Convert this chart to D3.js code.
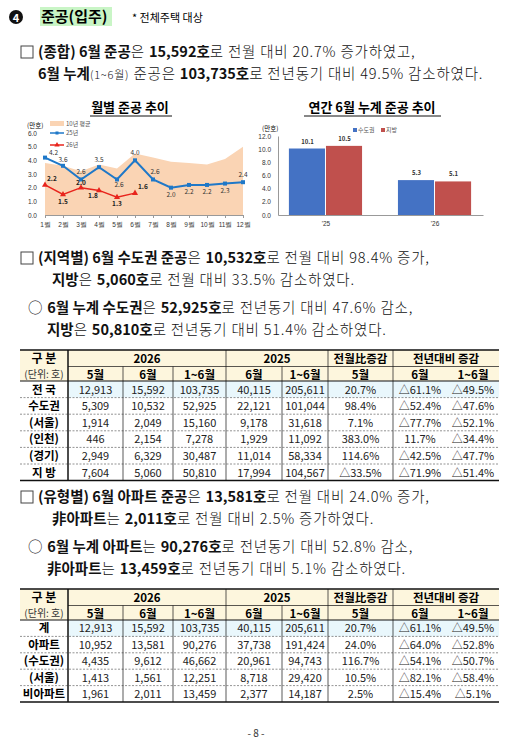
<!DOCTYPE html>
<html><head><meta charset="utf-8">
<script src="https://cdn.jsdelivr.net/npm/d3@7"></script>
<style>body{margin:0;background:#fff}svg{display:block;font-family:"Noto Sans CJK KR","Noto Sans",sans-serif}</style>
</head><body><svg id="s" width="512" height="743"></svg>
<script>
const months=["1월","2월","3월","4월","5월","6월","7월","8월","9월","10월","11월","12월"];
const avg10=[3.8,3.6,3.2,3.7,3.4,4.5,4.2,3.9,3.8,3.7,4.1,5.0];
const y25=[4.2,3.6,2.6,3.5,2.6,4.0,2.6,2.0,2.2,2.2,2.3,2.4];
const y26=[2.2,1.5,2.0,1.8,1.3,1.6];
const barYears=["'25","'26"];
const capital=[10.1,5.3];
const region=[10.5,5.1];
const head1=["5월","6월","1~6월","6월","1~6월","5월","6월","1~6월"];
const t1Labels=["전 국","수도권","(서울)","(인천)","(경기)","지 방"];
const t1=[["12,913","15,592","103,735","40,115","205,611","20.7%","△61.1%","△49.5%"],
["5,309","10,532","52,925","22,121","101,044","98.4%","△52.4%","△47.6%"],
["1,914","2,049","15,160","9,178","31,618","7.1%","△77.7%","△52.1%"],
["446","2,154","7,278","1,929","11,092","383.0%","11.7%","△34.4%"],
["2,949","6,329","30,487","11,014","58,334","114.6%","△42.5%","△47.7%"],
["7,604","5,060","50,810","17,994","104,567","△33.5%","△71.9%","△51.4%"]];
const t2Labels=["계","아파트","(수도권)","(서울)","비아파트"];
const t2=[["12,913","15,592","103,735","40,115","205,611","20.7%","△61.1%","△49.5%"],
["10,952","13,581","90,276","37,738","191,424","24.0%","△64.0%","△52.8%"],
["4,435","9,612","46,662","20,961","94,743","116.7%","△54.1%","△50.7%"],
["1,413","1,561","12,251","8,718","29,420","10.5%","△82.1%","△58.4%"],
["1,961","2,011","13,459","2,377","14,187","2.5%","△15.4%","△5.1%"]];

const svg=d3.select("#s");
function para(x,y,parts,size=14.5){
  const t=svg.append("text").attr("x",x).attr("y",y).attr("font-size",size).attr("fill","#111");
  parts.forEach(p=>{t.append("tspan").text(p[0]).attr("font-weight",p[1]?"bold":"300").attr("letter-spacing",p[1]?0:0.8).attr("font-size",p[2]||size);});
}
svg.append("circle").attr("cx",16).attr("cy",17).attr("r",7).attr("fill","#111");
svg.append("text").attr("x",16).attr("y",21.5).attr("text-anchor","middle").attr("font-size",11).attr("font-weight","bold").attr("fill","#fff").text("4");
svg.append("rect").attr("x",40).attr("y",7).attr("width",72).attr("height",19).attr("fill","#c9f5c6");
svg.append("text").attr("x",41).attr("y",22).attr("font-size",15).attr("font-weight","bold").text("준공(입주)");
svg.append("text").attr("x",132).attr("y",22).attr("font-size",11).text("* 전체주택 대상");

function box(x,y){svg.append("rect").attr("x",x).attr("y",y-11).attr("width",12).attr("height",12).attr("fill","none").attr("stroke","#444");}
box(21,57);
para(38,57,[["(종합) 6월 준공",1],["은 ",0],["15,592호",1],["로 전월 대비 20.7% 증가하였고,",0]]);
para(38,79,[["6월 누계",1],["(1~6월)",0,11],[" 준공은 ",0],["103,735호",1],["로 전년동기 대비 49.5% 감소하였다.",0]]);

svg.append("text").attr("x",130).attr("y",112).attr("text-anchor","middle").attr("font-size",13).attr("font-weight","bold").text("월별 준공 추이");
svg.append("line").attr("x1",90).attr("x2",172).attr("y1",116).attr("y2",116).attr("stroke","#111");
const x=d3.scalePoint().domain(months).range([45,243]);
const y=d3.scaleLinear().domain([0,6]).range([215,133]);
const g=svg.append("g");
g.append("path").datum(avg10).attr("fill","#fad4b4").attr("d",d3.area().x((d,i)=>x(months[i])).y0(y(0)).y1(d=>y(d)));
const ya=g.append("g").attr("transform","translate(45,0)").call(d3.axisLeft(y).tickValues([0,1,2,3,4,5,6]).tickFormat(d3.format(".1f")).tickSize(0));
ya.select(".domain").remove();ya.selectAll("text").attr("font-size",6.5).attr("dx",-5).attr("fill","#333");
const xa=g.append("g").attr("transform","translate(0,215)").call(d3.axisBottom(x).tickSize(3));
xa.select(".domain").attr("stroke","#999");xa.selectAll("line").attr("stroke","#999");xa.selectAll("text").attr("font-size",6.5).attr("fill","#333").attr("dy",6);
g.append("text").attr("x",27).attr("y",128).attr("font-size",6.5).text("(만호)");
const line=d3.line().x((d,i)=>x(months[i])).y(d=>y(d));
g.append("path").datum(y25).attr("fill","none").attr("stroke","#1f78c8").attr("stroke-width",2).attr("d",line);
g.append("path").datum(y26).attr("fill","none").attr("stroke","#e8241c").attr("stroke-width",1.5).attr("d",line);
g.selectAll(".p25").data(y25).join("rect").attr("x",(d,i)=>x(months[i])-2).attr("y",d=>y(d)-2).attr("width",4).attr("height",4).attr("fill","#1f78c8");
g.selectAll(".p26").data(y26).join("path").attr("transform",(d,i)=>`translate(${x(months[i])},${y(d)})`).attr("d",d3.symbol(d3.symbolTriangle,16)).attr("fill","#e8241c");
const off25=[[4,-3],[0,-4],[0,-5],[0,-5],[2,8],[0,-5],[2,-5],[0,9],[0,9],[0,9],[0,9],[0,-5]];
g.selectAll(".l25").data(y25).join("text").attr("x",(d,i)=>x(months[i])+off25[i][0]).attr("y",(d,i)=>y(d)+off25[i][1]).attr("text-anchor",(d,i)=>i==0?"start":"middle").attr("font-size",6.5).attr("fill","#333").text(d=>d.toFixed(1));
const off26=[[2,-4],[0,9],[0,-3],[-6,8],[0,9],[3,-4]];
g.selectAll(".l26").data(y26).join("text").attr("x",(d,i)=>x(months[i])+off26[i][0]).attr("y",(d,i)=>y(d)+off26[i][1]).attr("text-anchor",(d,i)=>i==0||i==5?"start":"middle").attr("font-size",6.5).attr("font-weight","bold").attr("fill","#222").text(d=>d.toFixed(1));
g.append("rect").attr("x",50).attr("y",121).attr("width",14).attr("height",5).attr("fill","#fad4b4");
g.append("text").attr("x",66).attr("y",126).attr("font-size",6).attr("fill","#555").text("10년 평균");
g.append("line").attr("x1",50).attr("x2",64).attr("y1",133).attr("y2",133).attr("stroke","#1f78c8").attr("stroke-width",1.5);
g.append("rect").attr("x",55.5).attr("y",131.5).attr("width",3).attr("height",3).attr("fill","#1f78c8");
g.append("text").attr("x",66).attr("y",135).attr("font-size",6).attr("fill","#555").text("25년");
g.append("line").attr("x1",50).attr("x2",64).attr("y1",145).attr("y2",145).attr("stroke","#e8241c").attr("stroke-width",1.5);
g.append("path").attr("transform","translate(57,145)").attr("d",d3.symbol(d3.symbolTriangle,12)).attr("fill","#e8241c");
g.append("text").attr("x",66).attr("y",147).attr("font-size",6).attr("fill","#555").text("26년");

svg.append("text").attr("x",372).attr("y",112).attr("text-anchor","middle").attr("font-size",13).attr("font-weight","bold").text("연간 6월 누계 준공 추이");
svg.append("line").attr("x1",304).attr("x2",441).attr("y1",116).attr("y2",116).attr("stroke","#111");
const bx=d3.scaleBand().domain(barYears).range([278,483]).paddingInner(0.32).paddingOuter(0.1);
const by=d3.scaleLinear().domain([0,12]).range([215,136]);
const bg=svg.append("g");
const bya=bg.append("g").attr("transform","translate(278,0)").call(d3.axisLeft(by).tickValues([0,2,4,6,8,10,12]).tickFormat(d3.format(".1f")).tickSize(0));
bya.select(".domain").attr("stroke","#999");bya.selectAll("text").attr("font-size",6.5).attr("dx",-4).attr("fill","#333");
const bxa=bg.append("g").attr("transform","translate(0,215)").call(d3.axisBottom(bx).tickSize(0));
bxa.select(".domain").attr("stroke","#999");bxa.selectAll("text").attr("font-size",6.5).attr("dy",8).attr("fill","#333");
bg.append("text").attr("x",262).attr("y",131).attr("font-size",6.5).text("(만호)");
const bw=bx.bandwidth()/2;
const series=[[capital,"#4472c4",0],[region,"#c0504d",1]];
series.forEach(([vals,col,k])=>{
 bg.selectAll(null).data(vals).join("rect").attr("x",(d,i)=>bx(barYears[i])+k*bw).attr("width",bw-1).attr("y",d=>by(d)).attr("height",d=>215-by(d)).attr("fill",col);
 bg.selectAll(null).data(vals).join("text").attr("x",(d,i)=>bx(barYears[i])+k*bw+bw/2).attr("y",d=>by(d)-5).attr("text-anchor","middle").attr("font-size",6).attr("font-weight","bold").attr("fill","#333").text(d=>d.toFixed(1));
});
bg.append("rect").attr("x",353).attr("y",128).attr("width",4).attr("height",4).attr("fill","#4472c4");
bg.append("text").attr("x",358).attr("y",132).attr("font-size",6).attr("fill","#555").text("수도권");
bg.append("rect").attr("x",381).attr("y",128).attr("width",4).attr("height",4).attr("fill","#c0504d");
bg.append("text").attr("x",386).attr("y",132).attr("font-size",6).attr("fill","#555").text("지방");

box(21,263);
para(38,263,[["(지역별) 6월 수도권 준공",1],["은 ",0],["10,532호",1],["로 전월 대비 98.4% 증가,",0]]);
para(52,285,[["지방",1],["은 ",0],["5,060호",1],["로 전월 대비 33.5% 감소하였다.",0]]);
para(28,313,[["○  ",0],["6월 누계 수도권",1],["은 ",0],["52,925호",1],["로 전년동기 대비 47.6% 감소,",0]]);
para(47,335,[["지방",1],["은 ",0],["50,810호",1],["로 전년동기 대비 51.4% 감소하였다.",0]]);

const colX=[20,68,123,173,226,282,328,393,447,499];
function table(top,labels,rows,rowH){
 const T=svg.append("g");
 const hb=top+31;
 T.append("rect").attr("x",colX[0]).attr("y",top).attr("width",colX[9]-colX[0]).attr("height",31).attr("fill","#fdf6dd");
 T.append("rect").attr("x",colX[1]).attr("y",hb).attr("width",colX[9]-colX[1]).attr("height",rowH).attr("fill","#e9f7fc");
 T.append("text").attr("x",44).attr("y",top+13).attr("text-anchor","middle").attr("font-size",12).attr("font-weight","bold").text("구 분");
 T.append("text").attr("x",44).attr("y",top+28).attr("text-anchor","middle").attr("font-size",10).attr("fill","#333").text("(단위: 호)");
 const groups=[["2026",1,4],["2025",4,6],["전월比증감",6,7],["전년대비 증감",7,9]];
 groups.forEach(([t,a,b])=>T.append("text").attr("x",(colX[a]+colX[b])/2).attr("y",top+12.5).attr("text-anchor","middle").attr("font-size",11.5).attr("font-weight","bold").text(t));
 head1.forEach((h,i)=>T.append("text").attr("x",(colX[i+1]+colX[i+2])/2).attr("y",top+28.5).attr("text-anchor","middle").attr("font-size",11.5).attr("font-weight","bold").text(h));
 rows.forEach((r,j)=>{
  const yy=hb+rowH*j+rowH-4;
  T.append("text").attr("x",44).attr("y",yy).attr("text-anchor","middle").attr("font-size",11.5).attr("font-weight","bold").text(labels[j]);
  r.forEach((c,i)=>T.append("text").attr("x",(colX[i+1]+colX[i+2])/2).attr("y",yy).attr("text-anchor","middle").attr("font-size",11).attr("fill","#222").text(c));
  if(j>0) T.append("line").attr("x1",colX[0]).attr("x2",colX[9]).attr("y1",hb+rowH*j).attr("y2",hb+rowH*j).attr("stroke","#777").attr("stroke-dasharray","2,1.5").attr("stroke-width",0.8);
 });
 const bot=hb+rowH*rows.length;
 T.append("line").attr("x1",colX[0]).attr("x2",colX[9]).attr("y1",top).attr("y2",top).attr("stroke","#111").attr("stroke-width",1.5);
 T.append("line").attr("x1",colX[0]).attr("x2",colX[9]).attr("y1",bot).attr("y2",bot).attr("stroke","#111").attr("stroke-width",1.5);
 T.append("line").attr("x1",colX[0]).attr("x2",colX[9]).attr("y1",hb).attr("y2",hb).attr("stroke","#111");
 T.append("line").attr("x1",colX[1]).attr("x2",colX[9]).attr("y1",top+16.5).attr("y2",top+16.5).attr("stroke","#111").attr("stroke-width",0.7);
 T.append("line").attr("x1",colX[1]).attr("x2",colX[1]).attr("y1",top).attr("y2",bot).attr("stroke","#111").attr("stroke-width",1.5);
 [2,3,5].forEach(i=>T.append("line").attr("x1",colX[i]).attr("x2",colX[i]).attr("y1",top+16.5).attr("y2",bot).attr("stroke","#111").attr("stroke-width",0.7));
 [4,6,7].forEach(i=>T.append("line").attr("x1",colX[i]).attr("x2",colX[i]).attr("y1",top).attr("y2",bot).attr("stroke","#111").attr("stroke-width",0.7));
}
table(350,t1Labels,t1,16.6);

box(21,502);
para(38,502,[["(유형별) 6월 아파트 준공",1],["은 ",0],["13,581호",1],["로 전월 대비 24.0% 증가,",0]]);
para(52,524,[["非아파트",1],["는 ",0],["2,011호",1],["로 전월 대비 2.5% 증가하였다.",0]]);
para(28,552,[["○  ",0],["6월 누계 아파트",1],["는 ",0],["90,276호",1],["로 전년동기 대비 52.8% 감소,",0]]);
para(47,574,[["非아파트",1],["는 ",0],["13,459호",1],["로 전년동기 대비 5.1% 감소하였다.",0]]);

table(589,t2Labels,t2,16.4);
svg.append("text").attr("x",256).attr("y",737).attr("text-anchor","middle").attr("font-size",10).attr("fill","#333").text("- 8 -");
</script></body></html>
